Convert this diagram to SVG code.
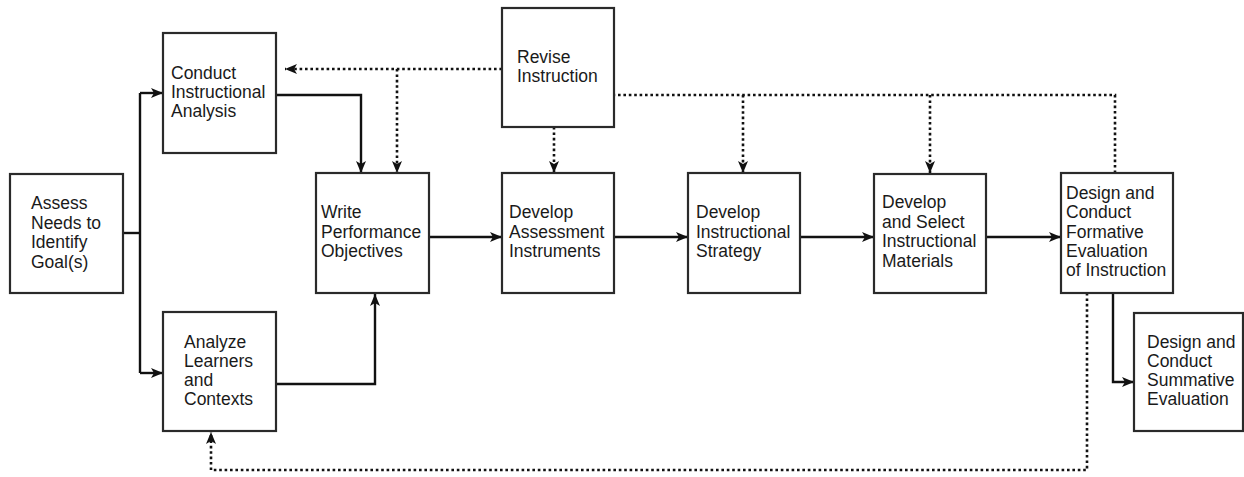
<svg xmlns="http://www.w3.org/2000/svg" width="1244" height="477" viewBox="0 0 1244 477">
<style>
.box{fill:#fff;stroke:#2a2a2a;stroke-width:2.2}
.t{font-family:"Liberation Sans",Arial,sans-serif;font-size:17.5px;fill:#1a1a1a}
.s{fill:none;stroke:#111;stroke-width:2.4}
.d{fill:none;stroke:#111;stroke-width:2.6;stroke-dasharray:2.6 2.8}
</style>
<defs>
<marker id="ah" viewBox="0 0 12 10" refX="12" refY="5" markerWidth="12" markerHeight="10" markerUnits="userSpaceOnUse" orient="auto">
<path d="M0,0 L12,5 L0,10 L3,5 z" fill="#111"/>
</marker>
</defs>
<rect width="1244" height="477" fill="#fff"/>
<g id="connectors">
<path class="s" d="M123,233 H140"/>
<path class="s" d="M140,93 V373"/>
<path class="s" d="M140,93 H163" marker-end="url(#ah)"/>
<path class="s" d="M140,373 H163" marker-end="url(#ah)"/>
<path class="s" d="M276,95 H361 V173" marker-end="url(#ah)"/>
<path class="s" d="M276,384 H375 V294" marker-end="url(#ah)"/>
<path class="s" d="M429,237 H502" marker-end="url(#ah)"/>
<path class="s" d="M614,237 H688" marker-end="url(#ah)"/>
<path class="s" d="M800,237 H874" marker-end="url(#ah)"/>
<path class="s" d="M986,237 H1061" marker-end="url(#ah)"/>
<path class="s" d="M1113,293 V382 H1134" marker-end="url(#ah)"/>
<path class="d" d="M502,69 H285" marker-end="url(#ah)"/>
<path class="d" d="M397,69 V173" marker-end="url(#ah)"/>
<path class="d" d="M554,127 V173" marker-end="url(#ah)"/>
<path class="d" d="M1115,173 V95 H614"/>
<path class="d" d="M743,95 V173" marker-end="url(#ah)"/>
<path class="d" d="M930,95 V173" marker-end="url(#ah)"/>
<path class="d" d="M1087,293 V470 H211 V432" marker-end="url(#ah)"/>
</g>
<g id="assess">
<rect class="box" x="10" y="174" width="113" height="119"/>
<text class="t" x="31" y="209">Assess</text>
<text class="t" x="31" y="228.5">Needs to</text>
<text class="t" x="31" y="248">Identify</text>
<text class="t" x="31" y="267.5">Goal(s)</text>
</g>
<g id="conduct">
<rect class="box" x="163" y="33" width="113" height="120"/>
<text class="t" x="171" y="79">Conduct</text>
<text class="t" x="171" y="98">Instructional</text>
<text class="t" x="171" y="117">Analysis</text>
</g>
<g id="analyze">
<rect class="box" x="163" y="312" width="113" height="119"/>
<text class="t" x="184" y="348">Analyze</text>
<text class="t" x="184" y="367">Learners</text>
<text class="t" x="184" y="386">and</text>
<text class="t" x="184" y="405">Contexts</text>
</g>
<g id="write">
<rect class="box" x="316" y="173" width="113" height="120"/>
<text class="t" x="321" y="218">Write</text>
<text class="t" x="321" y="237.5">Performance</text>
<text class="t" x="321" y="257">Objectives</text>
</g>
<g id="revise">
<rect class="box" x="502" y="8" width="112" height="119"/>
<text class="t" x="517" y="63">Revise</text>
<text class="t" x="517" y="82">Instruction</text>
</g>
<g id="assessment">
<rect class="box" x="502" y="173" width="112" height="120"/>
<text class="t" x="509" y="218">Develop</text>
<text class="t" x="509" y="237.5">Assessment</text>
<text class="t" x="509" y="257">Instruments</text>
</g>
<g id="strategy">
<rect class="box" x="688" y="173" width="112" height="120"/>
<text class="t" x="696" y="218">Develop</text>
<text class="t" x="696" y="237.5">Instructional</text>
<text class="t" x="696" y="257">Strategy</text>
</g>
<g id="materials">
<rect class="box" x="874" y="174" width="112" height="119"/>
<text class="t" x="882" y="208">Develop</text>
<text class="t" x="882" y="227.5">and Select</text>
<text class="t" x="882" y="247">Instructional</text>
<text class="t" x="882" y="266.5">Materials</text>
</g>
<g id="formative">
<rect class="box" x="1061" y="173" width="112" height="120"/>
<text class="t" x="1066" y="199">Design and</text>
<text class="t" x="1066" y="218">Conduct</text>
<text class="t" x="1066" y="237.5">Formative</text>
<text class="t" x="1066" y="257">Evaluation</text>
<text class="t" x="1066" y="276">of Instruction</text>
</g>
<g id="summative">
<rect class="box" x="1134" y="313" width="109" height="118"/>
<text class="t" x="1147" y="348">Design and</text>
<text class="t" x="1147" y="367">Conduct</text>
<text class="t" x="1147" y="386">Summative</text>
<text class="t" x="1147" y="405">Evaluation</text>
</g>
</svg>
